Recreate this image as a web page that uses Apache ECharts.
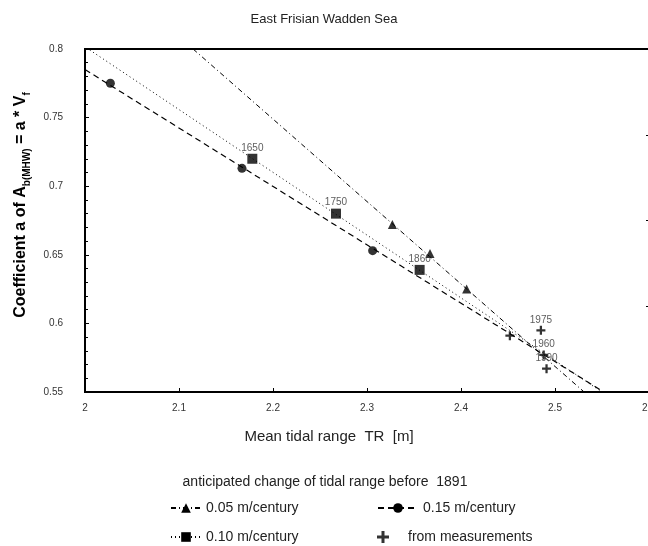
<!DOCTYPE html>
<html><head><meta charset="utf-8">
<script src="https://cdn.jsdelivr.net/npm/echarts@6/dist/echarts.min.js"></script>
<style>html,body{margin:0;padding:0;background:#fff}#c{width:648px;height:546px}</style>
</head><body><div id="c"></div>
<script>
// ---- data ----
const triX = [2.327, 2.367, 2.406];
const triY = [0.672, 0.651, 0.625];
const sqX = [2.178, 2.267, 2.356];
const sqY = [0.720, 0.680, 0.639];
const sqYears = ['1650', '1750', '1860'];
const cirX = [2.027, 2.167, 2.306];
const cirY = [0.775, 0.713, 0.653];
const measX = [2.452, 2.485, 2.488, 2.491];
const measY = [0.591, 0.595, 0.577, 0.567];
const measYears = ['', '1975', '1960', '1990'];
// fitted lines (end points)
const triFitX = [2.115, 2.531];
const triFitY = [0.800, 0.550];
const sqFitX = [2.005, 2.550];
const sqFitY = [0.7993, 0.550];
const cirFitX = [2.000, 2.552];
const cirFitY = [0.785, 0.550];
const seriesNames = ['0.05 m/century', '0.10 m/century', '0.15 m/century', 'from measurements'];
const titleText = 'East Frisian Wadden Sea';
const xName = 'Mean tidal range  TR  [m]';
const legendHeader = 'anticipated change of tidal range before  1891';

const zip = (xs, ys) => xs.map((x, i) => [x, ys[i]]);
const FONT = 'Arial, "Liberation Sans", sans-serif';
const plusPath = 'path://M3,0H5V3H8V5H5V8H3V5H0V3H3Z';

function leg(name, left, top, w) {
  return {
    left: left, top: top, orient: 'horizontal', itemWidth: w, itemHeight: 12, itemGap: 5,
    data: [name], selectedMode: false,
    textStyle: { fontSize: 14, color: '#222', fontFamily: FONT }
  };
}

const chart = echarts.init(document.getElementById('c'));
chart.setOption({
  animation: false,
  backgroundColor: '#fff',
  textStyle: { fontFamily: FONT },
  title: {
    text: titleText, left: 'center', top: 8,
    textStyle: { fontSize: 13, fontWeight: 'normal', color: '#222', fontFamily: FONT }
  },
  grid: { left: 85, top: 49, width: 564, height: 343, outerBoundsMode: 'none', containLabel: false,
    show: true, borderColor: '#000', borderWidth: 2, backgroundColor: 'transparent' },
  xAxis: {
    type: 'value', min: 2, max: 2.6, interval: 0.1,
    axisLine: { lineStyle: { color: '#000', width: 2 } },
    axisTick: { inside: true, length: 4, lineStyle: { color: '#000', width: 1 } },
    axisLabel: { margin: 11, fontSize: 10, color: '#333', fontFamily: FONT },
    splitLine: { show: false }
  },
  yAxis: [{
    type: 'value', min: 0.55, max: 0.8, interval: 0.05,
    axisLine: { lineStyle: { color: '#000', width: 2 } },
    axisTick: { inside: true, length: 4, lineStyle: { color: '#000', width: 1 } },
    minorTick: { show: true, splitNumber: 5, length: 3, lineStyle: { color: '#000', width: 1 } },
    axisLabel: { margin: 22, fontSize: 10, color: '#333', fontFamily: FONT },
    splitLine: { show: false }
  }, {
    type: 'value', position: 'right', min: 0, max: 4, interval: 1,
    axisLine: { show: false },
    axisTick: { show: true, inside: true, length: 3, lineStyle: { color: '#000' } },
    axisLabel: { show: false },
    splitLine: { show: false }
  }],
  legend: [
    leg(seriesNames[0], 165, 496, 30),
    leg(seriesNames[1], 165, 525, 30),
    leg(seriesNames[2], 372, 496, 40),
    leg(seriesNames[3], 372, 525, 40)
  ],
  graphic: [{
    type: 'text', x: 21, y: 205, rotation: Math.PI / 2,
    style: {
      text: '{m|Coefficient a of A}{s|b(MHW)}{m| = a * V}{s|f}',
      align: 'center', verticalAlign: 'middle',
      rich: {
        m: { fontSize: 16, fontWeight: 'bold', fontFamily: FONT, fill: '#000', lineHeight: 16, verticalAlign: 'top' },
        s: { fontSize: 10, fontWeight: 'bold', fontFamily: FONT, fill: '#000', lineHeight: 10, padding: [9, 0, 0, 0], verticalAlign: 'top' }
      }
    }
  }, {
    type: 'text', x: 329, y: 437,
    style: { text: xName, align: 'center', verticalAlign: 'middle', fontSize: 15, fontFamily: FONT, fill: '#222' }
  }, {
    type: 'text', x: 325, y: 482,
    style: { text: legendHeader, align: 'center', verticalAlign: 'middle', fontSize: 14, fontFamily: FONT, fill: '#222' }
  }],
  series: [{
    name: seriesNames[0], type: 'line', data: zip(triFitX, triFitY),
    symbol: 'triangle', symbolSize: 9, showSymbol: false,
    lineStyle: { color: '#000', width: 1, type: [5, 3, 1, 3] }, itemStyle: { color: '#000' }, z: 2
  }, {
    name: seriesNames[1], type: 'line', data: zip(sqFitX, sqFitY),
    symbol: 'rect', symbolSize: 9, showSymbol: false,
    lineStyle: { color: '#000', width: 1, type: [1, 3] }, itemStyle: { color: '#000' }, z: 2
  }, {
    name: seriesNames[2], type: 'line', data: zip(cirFitX, cirFitY),
    symbol: 'circle', symbolSize: 9, showSymbol: false,
    lineStyle: { color: '#000', width: 1.2, type: [6, 4] }, itemStyle: { color: '#000' }, z: 2
  }, {
    name: 'tri-pts', type: 'scatter', data: zip(triX, triY),
    symbol: 'triangle', symbolSize: 9, itemStyle: { color: '#000' }, z: 3
  }, {
    name: 'sq-pts', type: 'scatter', data: zip(sqX, sqY),
    symbol: 'rect', symbolSize: 10, itemStyle: { color: '#000' }, z: 3,
    label: { show: true, position: 'top', distance: 1, fontSize: 10, color: '#333', fontFamily: FONT,
      formatter: p => sqYears[p.dataIndex] }
  }, {
    name: 'cir-pts', type: 'scatter', data: zip(cirX, cirY),
    symbol: 'circle', symbolSize: 9, itemStyle: { color: '#000' }, z: 3
  }, {
    name: seriesNames[3], type: 'scatter', data: zip(measX, measY),
    symbol: plusPath, symbolSize: 9, itemStyle: { color: '#000' }, z: 3,
    label: { show: true, position: 'top', distance: 1, fontSize: 10, color: '#333', fontFamily: FONT,
      formatter: p => measYears[p.dataIndex] }
  }]
});
</script>
</body></html>
